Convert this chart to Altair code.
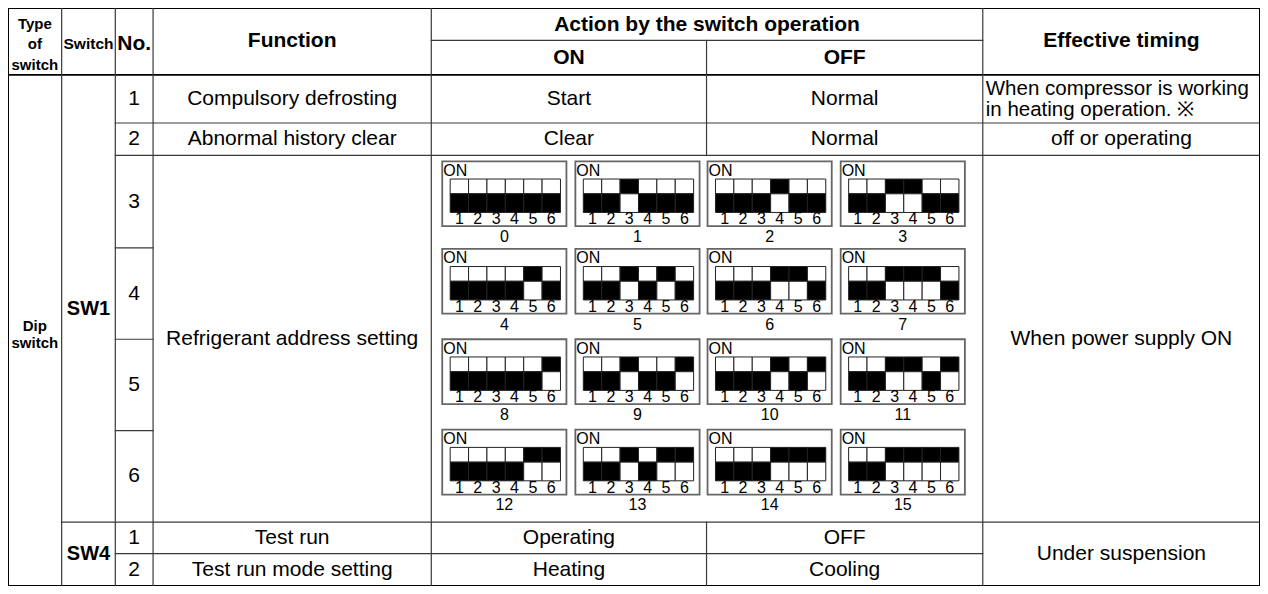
import altair as alt
import pandas as pd

# ---------------- data (text content of the table) ----------------
header_type = ["Type", "of", "switch"]
header_switch = "Switch"
header_no = "No."
header_function = "Function"
header_action = "Action by the switch operation"
header_on = "ON"
header_off = "OFF"
header_timing = "Effective timing"

type_label = ["Dip", "switch"]
switch_names = ["SW1", "SW4"]
sw1_nos = ["1", "2", "3", "4", "5", "6"]
sw4_nos = ["1", "2"]
sw1_functions = ["Compulsory defrosting", "Abnormal history clear", "Refrigerant address setting"]
sw1_on = ["Start", "Clear"]
sw1_off = ["Normal", "Normal"]
sw1_timing_first = ["When compressor is working", "in heating operation. \u203b"]
sw1_timing_second = "off or operating"
sw1_timing_address = "When power supply ON"
sw4_functions = ["Test run", "Test run mode setting"]
sw4_on = ["Operating", "Heating"]
sw4_off = ["OFF", "Cooling"]
sw4_timing = "Under suspension"

# Dip-switch address diagrams: "1" = lever up (ON), switches 1..6
address_labels = ["0", "1", "2", "3", "4", "5", "6", "7",
                  "8", "9", "10", "11", "12", "13", "14", "15"]
address_patterns = ["000000", "001000", "000100", "001100",
                    "000010", "001010", "000110", "001110",
                    "000001", "001001", "000101", "001101",
                    "000011", "001011", "000111", "001111"]
dip_numbers = ["1", "2", "3", "4", "5", "6"]
dip_on_text = "ON"

# ---------------- layout (reference pixel frame) ----------------
C = [4, 58, 112, 150, 430, 707, 985, 1264]          # column edges
R_TOP, R_MID, R_HEAD = 4, 37, 72
R = [72, 121, 154, 248, 341, 434, 527, 559, 592]    # body row edges
DIAG_X = [441, 575, 708, 842]
DIAG_Y = [160, 249, 341, 433]
BOX_W, BOX_H = 125, 66
CELL_X0, CELL_W = 8, 18.5
UP_Y0, MID_Y, LOW_Y1 = 18, 33, 52

FONT = "Liberation Sans"
BODY = 21
HEAD = 21
SMALL_B = 15


def mid(a, b):
    return (a + b) / 2


# ---------------- table lines ----------------
DARK, GREY = "#000000", "#3a3a3a"
lines = []


def seg(x, y, x2, y2, col=GREY, w=1.2):
    lines.append(dict(x=x, y=y, x2=x2, y2=y2, col=col, w=w))


# horizontals
seg(C[0], R_TOP, C[7], R_TOP, DARK, 2)
seg(C[4], R_MID, C[6], R_MID)
seg(C[0], R_HEAD, C[7], R_HEAD, DARK, 1.6)
seg(C[2], R[1], C[7], R[1])
seg(C[2], R[2], C[7], R[2])
for r in R[3:6]:
    seg(C[2], r, C[3], r)
seg(C[1], R[6], C[7], R[6])
seg(C[2], R[7], C[6], R[7])
seg(C[0], R[8], C[7], R[8], DARK, 2)
# verticals
seg(C[0], R_TOP, C[0], R[8], DARK, 2)
seg(C[7], R_TOP, C[7], R[8], DARK, 2)
for c in [C[1], C[2], C[3], C[4], C[6]]:
    seg(c, R_TOP, c, R[8])
seg(C[5], R_MID, C[5], R[2])
seg(C[5], R[6], C[5], R[8])
lines_df = pd.DataFrame(lines)

# ---------------- texts ----------------
bold_t, norm_t, left_t = [], [], []

for i, t in enumerate(header_type):
    bold_t.append(dict(x=mid(C[0], C[1]), y=20 + 21 * i, t=t, s=SMALL_B))
bold_t.append(dict(x=mid(C[1], C[2]), y=41, t=header_switch, s=SMALL_B + 0.5))
bold_t.append(dict(x=mid(C[2], C[3]), y=41, t=header_no, s=HEAD))
bold_t.append(dict(x=mid(C[3], C[4]), y=38, t=header_function, s=HEAD))
bold_t.append(dict(x=mid(C[4], C[6]), y=21, t=header_action, s=HEAD))
bold_t.append(dict(x=mid(C[4], C[5]), y=55, t=header_on, s=HEAD))
bold_t.append(dict(x=mid(C[5], C[6]), y=55, t=header_off, s=HEAD))
bold_t.append(dict(x=mid(C[6], C[7]), y=38, t=header_timing, s=HEAD))

for i, t in enumerate(type_label):
    bold_t.append(dict(x=mid(C[0], C[1]), y=328 + 17 * i, t=t, s=SMALL_B))
bold_t.append(dict(x=mid(C[1], C[2]), y=310, t=switch_names[0], s=20))
bold_t.append(dict(x=mid(C[1], C[2]), y=mid(R[6], R[8]), t=switch_names[1], s=20))

for i, n in enumerate(sw1_nos):
    norm_t.append(dict(x=mid(C[2], C[3]), y=mid(R[i], R[i + 1]), t=n, s=BODY))
for i, n in enumerate(sw4_nos):
    norm_t.append(dict(x=mid(C[2], C[3]), y=mid(R[6 + i], R[7 + i]), t=n, s=BODY))

for i in range(2):
    yy = mid(R[i], R[i + 1])
    norm_t.append(dict(x=mid(C[3], C[4]), y=yy, t=sw1_functions[i], s=BODY))
    norm_t.append(dict(x=mid(C[4], C[5]), y=yy, t=sw1_on[i], s=BODY))
    norm_t.append(dict(x=mid(C[5], C[6]), y=yy, t=sw1_off[i], s=BODY))
norm_t.append(dict(x=mid(C[3], C[4]), y=mid(R[2], R[6]), t=sw1_functions[2], s=BODY))
for i, t in enumerate(sw1_timing_first):
    left_t.append(dict(x=C[6] + 3, y=86.5 + 21 * i, t=t, s=BODY - 0.5))
norm_t.append(dict(x=mid(C[6], C[7]), y=mid(R[1], R[2]), t=sw1_timing_second, s=BODY))
norm_t.append(dict(x=mid(C[6], C[7]), y=mid(R[2], R[6]), t=sw1_timing_address, s=BODY))

for i in range(2):
    yy = mid(R[6 + i], R[7 + i])
    norm_t.append(dict(x=mid(C[3], C[4]), y=yy, t=sw4_functions[i], s=BODY))
    norm_t.append(dict(x=mid(C[4], C[5]), y=yy, t=sw4_on[i], s=BODY))
    norm_t.append(dict(x=mid(C[5], C[6]), y=yy, t=sw4_off[i], s=BODY))
norm_t.append(dict(x=mid(C[6], C[7]), y=mid(R[6], R[8]), t=sw4_timing, s=BODY))

# ---------------- dip switch diagrams ----------------
boxes, cells, dtext, dleft = [], [], [], []
for k, (lab, pat) in enumerate(zip(address_labels, address_patterns)):
    bx = DIAG_X[k % 4]
    by = DIAG_Y[k // 4]
    boxes.append(dict(x=bx, x2=bx + BOX_W, y=by, y2=by + BOX_H))
    dleft.append(dict(x=bx + 1, y=by + 9.5, t=dip_on_text, s=16))
    for j, st in enumerate(pat):
        x0 = bx + CELL_X0 + CELL_W * j
        up_col = "#000000" if st == "1" else "#ffffff"
        lo_col = "#ffffff" if st == "1" else "#000000"
        cells.append(dict(x=x0, x2=x0 + CELL_W, y=by + UP_Y0, y2=by + MID_Y, f=up_col))
        cells.append(dict(x=x0, x2=x0 + CELL_W, y=by + MID_Y, y2=by + LOW_Y1, f=lo_col))
        dtext.append(dict(x=x0 + CELL_W / 2, y=by + 59, t=dip_numbers[j], s=16))
    dtext.append(dict(x=bx + BOX_W / 2, y=by + 77, t=lab, s=16))

# ---------------- chart ----------------
xs = alt.Scale(domain=[C[0], C[7]], nice=False, zero=False)
ys = alt.Scale(domain=[R_TOP, R[8]], nice=False, zero=False, reverse=True)
X = alt.X("x:Q", scale=xs, axis=None)
Y = alt.Y("y:Q", scale=ys, axis=None)

rules = alt.Chart(lines_df).mark_rule(strokeCap="square").encode(
    x=X, y=Y, x2="x2:Q", y2="y2:Q",
    color=alt.Color("col:N", scale=None),
    strokeWidth=alt.StrokeWidth("w:Q", scale=None),
)

box_layer = alt.Chart(pd.DataFrame(boxes)).mark_rect(
    fill="white", stroke="#666666", strokeWidth=1.8
).encode(x=X, y=Y, x2="x2:Q", y2="y2:Q")

cell_layer = alt.Chart(pd.DataFrame(cells)).mark_rect(
    stroke="#222222", strokeWidth=1
).encode(x=X, y=Y, x2="x2:Q", y2="y2:Q", fill=alt.Fill("f:N", scale=None))


def text_layer(rows, bold=False, align="center"):
    return alt.Chart(pd.DataFrame(rows)).mark_text(
        font=FONT, fontWeight="bold" if bold else "normal",
        align=align, baseline="middle", color="black"
    ).encode(x=X, y=Y, text="t:N", size=alt.Size("s:Q", scale=None))


chart = alt.layer(
    box_layer,
    cell_layer,
    text_layer(dtext),
    text_layer(dleft, align="left"),
    rules,
    text_layer(bold_t, bold=True),
    text_layer(norm_t),
    text_layer(left_t, align="left"),
).properties(
    width=1252, height=578, padding=0,
    autosize=alt.AutoSizeParams(type="none"),
).configure_view(stroke=None).configure(background="white")

chart.save("out.html", embed_options={"renderer": "svg", "actions": False})
